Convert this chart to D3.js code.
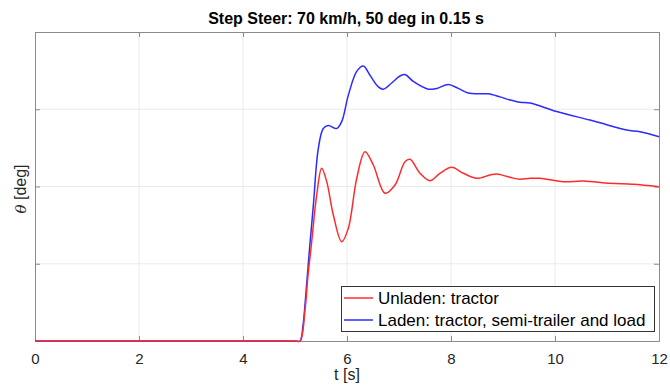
<!DOCTYPE html>
<html><head><meta charset="utf-8">
<script src="https://cdn.jsdelivr.net/npm/d3@7"></script>
<style>body{margin:0;background:#fff}svg{display:block}text{font-family:"Liberation Sans",Arial,sans-serif}</style>
</head><body><svg id="c" width="670" height="386"></svg>
<script>
const titleText = "Step Steer: 70 km/h, 50 deg in 0.15 s";
const xTicks = [0, 2, 4, 6, 8, 10, 12];
const yTicks = [0, 1, 2, 3, 4];
const seriesNames = ["Unladen: tractor", "Laden: tractor, semi-trailer and load"];
const seriesColors = ["#ff2b2b", "#2b2bff"];
const unladenT = [0, 1, 2, 3, 4, 5.0, 5.096, 5.192, 5.25, 5.321, 5.417, 5.513, 5.61, 5.737, 5.898, 6.025, 6.187, 6.346, 6.506, 6.731, 6.923, 7.115, 7.212, 7.404, 7.596, 7.788, 8.013, 8.237, 8.494, 8.75, 8.879, 9.135, 9.327, 9.519, 9.712, 10.16, 10.544, 11.058, 11.506, 12];
const unladenV = [0, 0, 0, 0, 0, 0, 0, 0.4, 0.85, 1.285, 1.89, 2.235, 2.063, 1.631, 1.285, 1.458, 2.106, 2.45, 2.278, 1.912, 2.019, 2.321, 2.352, 2.171, 2.075, 2.171, 2.248, 2.171, 2.106, 2.149, 2.162, 2.119, 2.095, 2.106, 2.106, 2.062, 2.071, 2.041, 2.028, 1.997];
const ladenT = [0, 1, 2, 3, 4, 5.0, 5.096, 5.154, 5.202, 5.269, 5.352, 5.448, 5.544, 5.64, 5.802, 5.898, 6.025, 6.187, 6.313, 6.442, 6.602, 6.698, 6.86, 7.019, 7.115, 7.275, 7.563, 7.725, 7.948, 8.14, 8.333, 8.525, 8.717, 8.942, 9.135, 9.327, 9.519, 10.033, 10.673, 10.994, 11.379, 11.635, 12];
const ladenV = [0, 0, 0, 0, 0, 0, 0, 0.2, 0.55, 1.11, 1.75, 2.49, 2.75, 2.79, 2.75, 2.84, 3.18, 3.49, 3.56, 3.44, 3.29, 3.26, 3.34, 3.43, 3.45, 3.36, 3.26, 3.27, 3.32, 3.27, 3.21, 3.2, 3.2, 3.16, 3.12, 3.09, 3.08, 2.97, 2.86, 2.8, 2.73, 2.71, 2.645];

const svg = d3.select("#c");
const m = {l: 35, r: 659, t: 32, b: 341};
const x = d3.scaleLinear().domain([0, 12]).range([m.l, m.r]);
const y = d3.scaleLinear().domain([0, 4]).range([m.b, m.t]);

// grid
const g = svg.append("g");
g.selectAll(".gx").data(xTicks.slice(1, -1)).join("line")
  .attr("x1", d => x(d)).attr("x2", d => x(d)).attr("y1", m.t).attr("y2", m.b)
  .attr("stroke", "#ebebeb").attr("stroke-width", 1);
g.selectAll(".gy").data(yTicks.slice(1, -1)).join("line")
  .attr("x1", m.l).attr("x2", m.r).attr("y1", d => y(d)).attr("y2", d => y(d))
  .attr("stroke", "#ebebeb").attr("stroke-width", 1);

// axes
const axB = d3.axisBottom(x).tickValues(xTicks).tickSize(-5).tickPadding(12).tickFormat(d3.format("d"));
const axT = d3.axisTop(x).tickValues(xTicks).tickSize(-5).tickFormat("");
const axL = d3.axisLeft(y).tickValues(yTicks).tickSize(-5).tickFormat("");
const axR = d3.axisRight(y).tickValues(yTicks).tickSize(-5).tickFormat("");
function style(sel) {
  sel.selectAll("path,line").attr("stroke", "#8a8a8a");
  sel.selectAll("text").attr("fill", "#262626").style("font-size", "15px").style("font-family", "Liberation Sans, Arial, sans-serif");
}
svg.append("g").attr("transform", `translate(0,${m.b})`).call(axB).call(style);
svg.append("g").attr("transform", `translate(0,${m.t})`).call(axT).call(style);
svg.append("g").attr("transform", `translate(${m.l},0)`).call(axL).call(style);
svg.append("g").attr("transform", `translate(${m.r},0)`).call(axR).call(style);

// lines
const line = d3.line().x(d => x(d[0])).y(d => y(d[1])).curve(d3.curveCatmullRom.alpha(0.5));
const series = [d3.zip(unladenT, unladenV), d3.zip(ladenT, ladenV)];
svg.append("g").selectAll("path").data([series[1], series[0]]).join("path")
  .attr("d", line).attr("fill", "none")
  .attr("stroke", (d, i) => i === 0 ? seriesColors[1] : seriesColors[0])
  .attr("stroke-width", 1.5);

// title
svg.append("text").attr("x", 346).attr("y", 23.5).attr("text-anchor", "middle")
  .style("font-size", "16px").style("font-weight", "bold").attr("fill", "#000").text(titleText);
// x label
svg.append("text").attr("x", 347).attr("y", 380).attr("text-anchor", "middle")
  .style("font-size", "16px").attr("fill", "#262626").text("t [s]");
// y label
const yl = svg.append("text").attr("transform", "translate(26,189) rotate(-90)").attr("text-anchor", "middle")
  .style("font-size", "16px").attr("fill", "#262626");
yl.append("tspan").style("font-style", "italic").style("font-family", "DejaVu Serif, serif").style("font-size", "15px").text("θ");
yl.append("tspan").text(" [deg]");

// legend
const lg = svg.append("g");
lg.append("rect").attr("x", 341.5).attr("y", 286.5).attr("width", 313).attr("height", 45)
  .attr("fill", "#fff").attr("stroke", "#333").attr("stroke-width", 1);
seriesNames.forEach((n, i) => {
  const yy = 298 + i * 22;
  lg.append("line").attr("x1", 344).attr("x2", 373).attr("y1", yy).attr("y2", yy)
    .attr("stroke", seriesColors[i]).attr("stroke-width", 1.5);
  lg.append("text").attr("x", 378).attr("y", yy + 6).style("font-size", "17px").attr("fill", "#000").text(n);
});
</script></body></html>
